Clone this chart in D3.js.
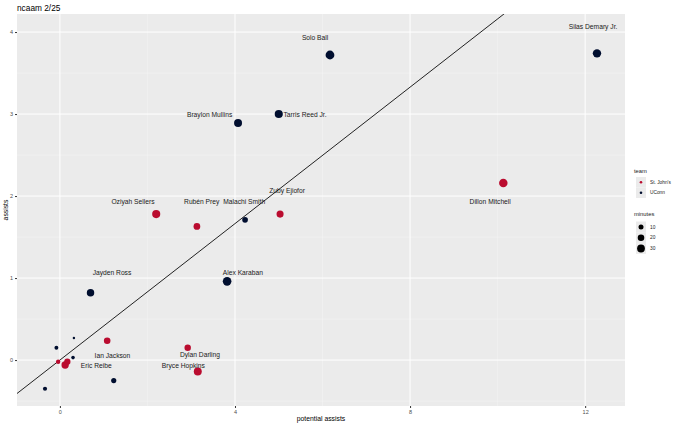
<!DOCTYPE html>
<html>
<head>
<meta charset="utf-8">
<script src="https://cdn.jsdelivr.net/npm/d3@7"></script>
<style>
  body { margin: 0; background: #fff; }
  text { font-family: "Liberation Sans", Arial, sans-serif; }
</style>
</head>
<body>
<div id="chart"></div>
<script>
// player data (unlabeled points have no name)
var players = ['Silas Demary Jr.', 'Solo Ball', 'Tarris Reed Jr.', 'Braylon Mullins', 'Dillon Mitchell',
    'Oziyah Sellers', 'Zuby Ejiofor', 'Rubén Prey', 'Malachi Smith', 'Jayden Ross', 'Alex Karaban',
    'Ian Jackson', 'Dylan Darling', 'Bryce Hopkins', 'Eric Reibe', '', '', '', '', '', '', ''];
var teams = ['UConn', 'UConn', 'UConn', 'UConn', "St. John's",
    "St. John's", "St. John's", "St. John's", 'UConn', 'UConn', 'UConn',
    "St. John's", "St. John's", "St. John's", "St. John's", "St. John's", "St. John's",
    'UConn', 'UConn', 'UConn', 'UConn', 'UConn'];
var potentialAssists = [12.27, 6.17, 5.0, 4.07, 10.13, 2.2, 5.03, 3.13, 4.23, 0.7, 3.82,
    1.08, 2.92, 3.15, 0.12, 0.17, -0.04, -0.08, 0.32, 0.3, -0.34, 1.23];
var assists = [3.74, 3.72, 3.0, 2.89, 2.16, 1.78, 1.78, 1.63, 1.71, 0.82, 0.96,
    0.235, 0.15, -0.14, -0.06, -0.02, -0.02, 0.15, 0.27, 0.03, -0.35, -0.25];
var minutes = [36, 40, 33, 32, 37, 33, 24, 21, 14, 27, 38,
    20, 19, 32, 26, 18, 7, 5, 1, 4, 6, 11];
// repelled label spots, in data units
var labelX = [12.18, 5.83, 5.6, 3.42, 9.83, 1.67, 5.19, 3.24, 4.21, 1.19, 4.18, 1.2, 3.2, 2.82, 0.83];
var labelY = [4.06, 3.93, 2.99, 2.99, 1.93, 1.93, 2.06, 1.93, 1.93, 1.06, 1.06, 0.057, 0.06, -0.073, -0.073];

var teamNames = ["St. John's", 'UConn'];
var teamColors = ['#BA0C2F', '#000E2F'];
var xTicks = [0, 4, 8, 12];
var yTicks = [0, 1, 2, 3, 4];
var xMinor = [2, 6, 10];
var yMinor = [-0.5, 0.5, 1.5, 2.5, 3.5];
var minuteBreaks = [10, 20, 30];
var fitLine = { intercept: 0.0, slope: 0.416 };

var width = 680, height = 426,
    margin = { top: 14, right: 55, bottom: 20, left: 17 };

var svg = d3.select('#chart')
    .append('svg')
    .attr('width', width)
    .attr('height', height);

var x = d3.scaleLinear().domain([-0.98, 12.91]).range([margin.left, width - margin.right]);
var y = d3.scaleLinear().domain([-0.56, 4.22]).range([height - margin.bottom, margin.top]);
var color = d3.scaleOrdinal().domain(teamNames).range(teamColors);
var size = d3.scaleSqrt().domain([0, 40]).range([0.6, 4.4]);

// panel
svg.append('rect')
    .attr('x', x.range()[0]).attr('y', y.range()[1])
    .attr('width', x.range()[1] - x.range()[0])
    .attr('height', y.range()[0] - y.range()[1])
    .attr('fill', '#ebebeb');

svg.append('clipPath').attr('id', 'clip')
    .append('rect')
    .attr('x', x.range()[0]).attr('y', y.range()[1])
    .attr('width', x.range()[1] - x.range()[0])
    .attr('height', y.range()[0] - y.range()[1]);

// grid lines
var grid = svg.append('g');
grid.selectAll('.xminor').data(xMinor).enter().append('line')
    .attr('x1', d => x(d)).attr('x2', d => x(d))
    .attr('y1', y.range()[0]).attr('y2', y.range()[1])
    .attr('stroke', '#f5f5f5').attr('stroke-width', 0.5);
grid.selectAll('.yminor').data(yMinor).enter().append('line')
    .attr('y1', d => y(d)).attr('y2', d => y(d))
    .attr('x1', x.range()[0]).attr('x2', x.range()[1])
    .attr('stroke', '#f5f5f5').attr('stroke-width', 0.5);
grid.selectAll('.xmajor').data(xTicks).enter().append('line')
    .attr('x1', d => x(d)).attr('x2', d => x(d))
    .attr('y1', y.range()[0]).attr('y2', y.range()[1])
    .attr('stroke', '#fff').attr('stroke-width', 1);
grid.selectAll('.ymajor').data(yTicks).enter().append('line')
    .attr('y1', d => y(d)).attr('y2', d => y(d))
    .attr('x1', x.range()[0]).attr('x2', x.range()[1])
    .attr('stroke', '#fff').attr('stroke-width', 1);

// axes
var xAxis = d3.axisBottom(x).tickValues(xTicks).tickFormat(d3.format('d')).tickSize(2).tickPadding(2);
var yAxis = d3.axisLeft(y).tickValues(yTicks).tickFormat(d3.format('d')).tickSize(2).tickPadding(2);

svg.append('g')
    .attr('transform', `translate(0,${y.range()[0]})`)
    .call(xAxis)
    .call(g => g.select('.domain').remove())
    .call(g => g.selectAll('line').attr('stroke', '#333'))
    .call(g => g.selectAll('text').attr('fill', '#4d4d4d').attr('font-size', 5.5)
        .attr('font-family', '"Liberation Sans", Arial, sans-serif'));

svg.append('g')
    .attr('transform', `translate(${x.range()[0]},0)`)
    .call(yAxis)
    .call(g => g.select('.domain').remove())
    .call(g => g.selectAll('line').attr('stroke', '#333'))
    .call(g => g.selectAll('text').attr('fill', '#4d4d4d').attr('font-size', 5.5)
        .attr('font-family', '"Liberation Sans", Arial, sans-serif'));

svg.append('text')
    .attr('x', (x.range()[0] + x.range()[1]) / 2)
    .attr('y', 421)
    .attr('text-anchor', 'middle')
    .attr('font-size', 6.8)
    .text('potential assists');

svg.append('text')
    .attr('transform', `translate(8,${(y.range()[0] + y.range()[1]) / 2}) rotate(-90)`)
    .attr('text-anchor', 'middle')
    .attr('font-size', 6.8)
    .text('assists');

svg.append('text')
    .attr('x', 17).attr('y', 11)
    .attr('font-size', 8.3)
    .text('ncaam 2/25');

// fit line
var xd = x.domain();
svg.append('line')
    .attr('clip-path', 'url(#clip)')
    .attr('x1', x(xd[0])).attr('y1', y(fitLine.intercept + fitLine.slope * xd[0]))
    .attr('x2', x(xd[1])).attr('y2', y(fitLine.intercept + fitLine.slope * xd[1]))
    .attr('stroke', '#222')
    .attr('stroke-width', 1);

// points
var rows = players.map((p, i) => ({
    name: p, team: teams[i], pa: potentialAssists[i], a: assists[i], min: minutes[i]
}));

svg.append('g')
    .selectAll('circle')
    .data(rows)
    .enter()
    .append('circle')
    .attr('cx', d => x(d.pa))
    .attr('cy', d => y(d.a))
    .attr('r', d => size(d.min))
    .attr('fill', d => color(d.team));

// labels
svg.append('g')
    .selectAll('text')
    .data(labelX.map((lx, i) => ({ name: players[i], lx: lx, ly: labelY[i] })))
    .enter()
    .append('text')
    .attr('x', d => x(d.lx))
    .attr('y', d => y(d.ly))
    .attr('dy', '0.35em')
    .attr('text-anchor', 'middle')
    .attr('font-size', 6.7)
    .attr('fill', '#1a1a1a')
    .text(d => d.name);

// legend: team
var legend = svg.append('g').attr('transform', 'translate(634,0)');
legend.append('text').attr('x', 0).attr('y', 173).attr('font-size', 5.8).attr('fill', '#1a1a1a').text('team');
var teamKey = legend.selectAll('.tk').data(teamNames).enter().append('g')
    .attr('transform', (d, i) => `translate(2,${177 + i * 10.5})`);
teamKey.append('rect').attr('width', 10).attr('height', 10.5).attr('fill', '#ebebeb');
teamKey.append('circle').attr('cx', 5).attr('cy', 5.25).attr('r', 1.3).attr('fill', d => color(d));
teamKey.append('text').attr('x', 14).attr('y', 5.25).attr('dy', '0.35em')
    .attr('font-size', 4.8).attr('fill', '#1a1a1a').text(d => d);

// legend: minutes
legend.append('text').attr('x', 0).attr('y', 216).attr('font-size', 5.8).attr('fill', '#1a1a1a').text('minutes');
var sizeKey = legend.selectAll('.sk').data(minuteBreaks).enter().append('g')
    .attr('transform', (d, i) => `translate(2,${221.5 + i * 10.8})`);
sizeKey.append('rect').attr('width', 10).attr('height', 10.8).attr('fill', '#ebebeb');
sizeKey.append('circle').attr('cx', 5).attr('cy', 5.4).attr('r', d => size(d)).attr('fill', '#000');
sizeKey.append('text').attr('x', 14).attr('y', 5.4).attr('dy', '0.35em')
    .attr('font-size', 4.8).attr('fill', '#1a1a1a').text(d => d);
</script>
</body>
</html>
